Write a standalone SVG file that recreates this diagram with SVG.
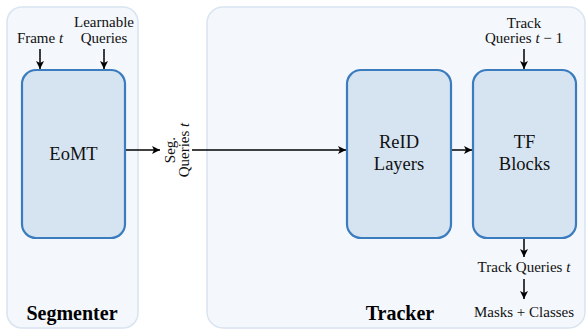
<svg xmlns="http://www.w3.org/2000/svg" width="587" height="329" viewBox="0 0 587 329" font-family="'Liberation Serif', 'Times New Roman', Times, 'DejaVu Serif', serif">
<defs>
<marker id="ah" viewBox="0 0 10 10" refX="10" refY="5" markerWidth="8" markerHeight="8" markerUnits="userSpaceOnUse" orient="auto">
<path d="M0,0 L10,5 L0,10 L2.5,5 Z" fill="#000"/>
</marker>
<style>
.panel{fill:#f4f7fb;stroke:#d8e4f1;stroke-width:1.5}
.box{fill:#d6e4f1;stroke:#3b7cbf;stroke-width:2.2}
text{font-family:'Liberation Serif','Times New Roman',Times,'DejaVu Serif',serif}
.t{font-size:15px;fill:#111;text-anchor:middle}
.bt{font-size:18.5px;fill:#111;text-anchor:middle}
.lab{font-size:20px;font-weight:bold;fill:#000;text-anchor:middle}
.c{stroke:#000;stroke-width:1.5;fill:none;marker-end:url(#ah)}
</style>
</defs>
<g id="segmenter">
<rect class="panel" x="7" y="7" width="131" height="321" rx="15"/>
<text class="lab" x="72" y="320">Segmenter</text>
<text class="t" x="40" y="43">Frame <tspan font-style="italic">t</tspan></text>
<text class="t" x="104" y="27">Learnable</text>
<text class="t" x="104" y="43">Queries</text>
</g>
<g id="tracker">
<rect class="panel" x="207" y="7" width="378" height="321" rx="16"/>
<text class="lab" x="400" y="320">Tracker</text>
<text class="t" x="524" y="28">Track</text>
<text class="t" x="524" y="43">Queries <tspan font-style="italic">t</tspan> − 1</text>
<text class="t" x="524" y="272">Track Queries <tspan font-style="italic">t</tspan></text>
<text class="t" x="524" y="317">Masks + Classes</text>
</g>
<g id="eomt">
<rect class="box" x="22" y="70" width="103" height="168" rx="14"/>
<text class="bt" x="73.5" y="160">EoMT</text>
</g>
<g id="seg-queries">
<text class="t" transform="translate(175,150) rotate(-90)">Seg.</text>
<text class="t" transform="translate(189,150) rotate(-90)">Queries <tspan font-style="italic">t</tspan></text>
</g>
<g id="reid">
<rect class="box" x="347" y="70" width="104" height="168" rx="14"/>
<text class="bt" x="399" y="148">ReID</text>
<text class="bt" x="399" y="170">Layers</text>
</g>
<g id="tf">
<rect class="box" x="473" y="70" width="103" height="168" rx="14"/>
<text class="bt" x="524.5" y="148">TF</text>
<text class="bt" x="524.5" y="170">Blocks</text>
</g>
<g id="connectors">
<line class="c" x1="40" y1="49" x2="40" y2="69"/>
<line class="c" x1="104" y1="49" x2="104" y2="69"/>
<line class="c" x1="126" y1="150" x2="160" y2="150"/>
<line class="c" x1="192" y1="150" x2="346" y2="150"/>
<line class="c" x1="452" y1="150" x2="472" y2="150"/>
<line class="c" x1="524" y1="49" x2="524" y2="69"/>
<line class="c" x1="524" y1="239" x2="524" y2="257"/>
<line class="c" x1="524" y1="279" x2="524" y2="299"/>
</g>
</svg>
